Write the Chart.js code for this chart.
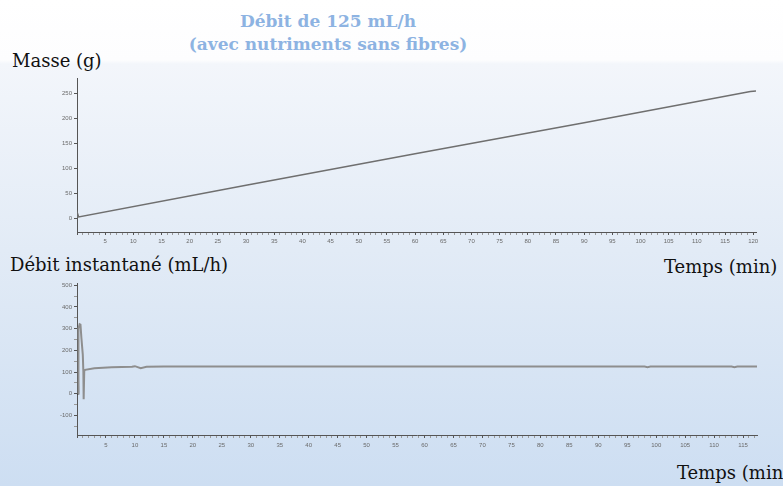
<!DOCTYPE html>
<html>
<head>
<meta charset="utf-8">
<script src="https://cdn.jsdelivr.net/npm/chart.js@4/dist/chart.umd.min.js"></script>
<style>
  html, body { margin: 0; padding: 0; }
  #page {
    position: relative; width: 783px; height: 486px; overflow: hidden;
    background: linear-gradient(to bottom, #ffffff 0px, #fdfdfe 60px, #f3f6fb 64px, #e2ebf6 250px, #cddef2 486px);
    font-family: "DejaVu Serif", serif;
  }
  .lbl { position: absolute; white-space: nowrap; line-height: 1; color: #111; font-size: 18px; }
  .ttl { position: absolute; left: 0; width: 656px; text-align: center; line-height: 1;
         font-weight: bold; font-size: 17px; color: #8db3e2; }
  canvas { position: absolute; left: 0; }
</style>
</head>
<body>
<div id="page">
  <div class="ttl" style="top:13px">Débit de 125 mL/h</div>
  <div class="ttl" style="top:36px">(avec nutriments sans fibres)</div>
  <div class="lbl" style="left:12px; top:52px">Masse (g)</div>
  <div class="lbl" style="left:10px; top:256px">Débit instantané (mL/h)</div>
  <div class="lbl" style="left:664px; top:258px">Temps (min)</div>
  <div class="lbl" style="left:677px; top:464px">Temps (min)</div>
  <canvas id="c1" width="783" height="190" style="top:60px"></canvas>
  <canvas id="c2" width="783" height="180" style="top:275px"></canvas>
</div>
<script>
// Masse (g) vs temps (min)
const massT = [0, 0.15, 0.3, 30, 60, 90, 119.5, 120.5];
const massG = [3, 8, 3, 66, 129, 191, 253, 254];
const massYTicks = [0, 50, 100, 150, 200, 250];

// Débit instantané (mL/h) vs temps (min)
const flowT = [0, 0.1, 0.2, 0.25, 0.45, 0.6, 0.75, 1.0, 1.1, 1.15, 1.25, 1.4, 3, 6, 9.5, 10, 11, 12, 15, 40, 98, 98.5, 99, 113, 113.5, 114, 117.4];
const flowV = [0, 250, 0, 300, 320, 318, 260, 180, 100, -25, 105, 110, 117, 122, 124, 127, 118, 124, 125, 125, 125, 122, 125, 125, 122, 125, 125];
const flowYTicks = [-150, -100, -50, 0, 50, 100, 150, 200, 250, 300, 350, 400, 450, 500];

const tickFont = { family: 'Liberation Sans, Arial, sans-serif', size: 6 };
const tickColor = '#6a6a6a';

function pts(xs, ys){ return xs.map((x, i) => ({ x: x, y: ys[i] })); }

function minuteTicks(max){
  const out = [];
  for(let m = 0; m <= Math.floor(max); m++) out.push({ value: m });
  return out;
}

function makeChart(id, cfg){
  return new Chart(document.getElementById(id), {
    type: 'line',
    data: { datasets: [{
      data: pts(cfg.xs, cfg.ys),
      borderColor: cfg.color, borderWidth: cfg.width,
      pointRadius: 0, tension: 0,
      segment: cfg.segment || {}
    }]},
    options: {
      responsive: false, animation: false,
      layout: { padding: { top: cfg.padTop, right: cfg.padRight, left: 0, bottom: 0 } },
      plugins: { legend: { display: false }, tooltip: { enabled: false } },
      scales: {
        x: {
          type: 'linear', min: 0, max: cfg.xMax,
          afterBuildTicks: s => { s.ticks = minuteTicks(cfg.xMax); },
          afterFit: s => { s.height = cfg.xHeight; },
          border: { display: true, color: '#555', width: 1 },
          grid: { drawOnChartArea: false, drawTicks: true, tickLength: 3,
                  tickColor: c => (c.tick && c.tick.value % 5 === 0) ? '#555' : '#9a9a9a' },
          ticks: { autoSkip: false, maxRotation: 0, padding: cfg.xPad, font: tickFont, color: tickColor,
                   callback: v => (v > 0 && v % 5 === 0) ? String(v) : '' }
        },
        y: {
          min: cfg.yMin, max: cfg.yMax,
          afterBuildTicks: s => { s.ticks = cfg.yTicks.map(v => ({ value: v })); },
          afterFit: s => { s.width = 77; },
          border: { display: true, color: '#555', width: 1 },
          grid: { drawOnChartArea: false, drawTicks: true, tickLength: 3,
                  tickColor: c => (c.tick && c.tick.value % 100 === 0) || cfg.yTicks.length < 8 ? '#555' : '#9a9a9a' },
          ticks: { padding: 2, font: tickFont, color: tickColor,
                   callback: v => (cfg.yTicks.length < 8 || v % 100 === 0) ? String(v) : '' }
        }
      }
    }
  });
}

makeChart('c1', {
  xs: massT, ys: massG, color: '#6f6f6f', width: 1.5,
  xMax: 120.5, yMin: -27, yMax: 280, yTicks: massYTicks,
  padTop: 18, padRight: 27, xHeight: 18, xPad: 3
});

makeChart('c2', {
  xs: flowT, ys: flowV, color: '#8e8e8e', width: 2,
  xMax: 117.4, yMin: -190, yMax: 510, yTicks: flowYTicks,
  padTop: 8, padRight: 26, xHeight: 20, xPad: 4,
  segment: { borderColor: c => c.p0.parsed.x < 0.2 ? '#3a3a3a' : undefined }
});
</script>
</body>
</html>
